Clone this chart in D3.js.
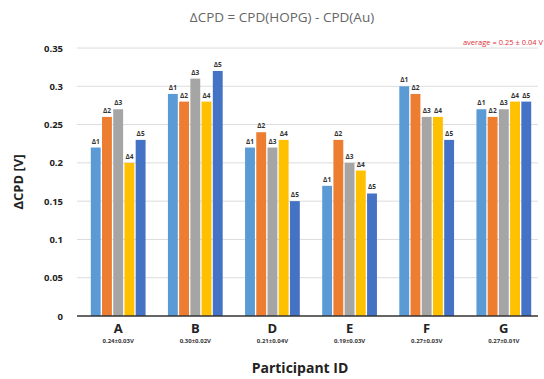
<!DOCTYPE html>
<html>
<head>
<meta charset="utf-8">
<script src="https://cdn.jsdelivr.net/npm/d3@7"></script>
<style>
  body { margin: 0; background: #fff; }
  text { font-family: "Open Sans", "Liberation Sans", sans-serif; }
</style>
</head>
<body>
<div id="chart"></div>
<script>
const participants = ['A', 'B', 'D', 'E', 'F', 'G'];
const summaries = ['0.24±0.03V', '0.30±0.02V', '0.21±0.04V', '0.19±0.03V', '0.27±0.03V', '0.27±0.01V'];
const seriesNames = ['Δ1', 'Δ2', 'Δ3', 'Δ4', 'Δ5'];
const seriesColors = ['#5B9BD5', '#ED7D31', '#A5A5A5', '#FFC000', '#4472C4'];
const values = [
  [0.22, 0.26, 0.27, 0.20, 0.23],
  [0.29, 0.28, 0.31, 0.28, 0.32],
  [0.22, 0.24, 0.22, 0.23, 0.15],
  [0.17, 0.23, 0.20, 0.19, 0.16],
  [0.30, 0.29, 0.26, 0.26, 0.23],
  [0.27, 0.26, 0.27, 0.28, 0.28]
];
const yTicks = [0, 0.05, 0.1, 0.15, 0.2, 0.25, 0.3, 0.35];

const width = 544, height = 379;
const margin = { top: 48, right: 2, bottom: 63, left: 80 };

const svg = d3.select('#chart').append('svg')
  .attr('width', width)
  .attr('height', height);

const x = d3.scaleBand()
  .domain(participants)
  .range([margin.left, width - margin.right])
  .paddingInner(0.29)
  .paddingOuter(0.14);

const xs = d3.scaleBand()
  .domain(seriesNames)
  .range([0, x.bandwidth()])
  .paddingInner(0.12);

const y = d3.scaleLinear()
  .domain([0, 0.35])
  .range([height - margin.bottom, margin.top]);

// grid lines
svg.append('g')
  .selectAll('line')
  .data(yTicks.filter(d => d > 0))
  .enter().append('line')
  .attr('x1', margin.left - 3)
  .attr('x2', width - 6)
  .attr('y1', d => y(d))
  .attr('y2', d => y(d))
  .attr('stroke', '#dcdcdc')
  .attr('stroke-width', 1);

// y tick labels
svg.append('g')
  .selectAll('text')
  .data(yTicks)
  .enter().append('text')
  .attr('x', 63)
  .attr('y', d => y(d) + 3.5)
  .attr('text-anchor', 'end')
  .attr('font-size', 9.5)
  .attr('font-weight', 'bold')
  .attr('fill', '#222')
  .text(d => d === 0 ? '0' : d3.format('.2~f')(d));

// bars
const groups = svg.selectAll('g.group')
  .data(values)
  .enter().append('g')
  .attr('class', 'group')
  .attr('transform', (d, i) => `translate(${x(participants[i])},0)`);

groups.selectAll('rect')
  .data(d => d)
  .enter().append('rect')
  .attr('x', (d, j) => xs(seriesNames[j]))
  .attr('width', xs.bandwidth())
  .attr('y', d => y(d))
  .attr('height', d => y(0) - y(d))
  .attr('fill', (d, j) => seriesColors[j]);

groups.selectAll('text')
  .data(d => d)
  .enter().append('text')
  .attr('x', (d, j) => xs(seriesNames[j]) + xs.bandwidth() / 2)
  .attr('y', d => y(d) - 4)
  .attr('text-anchor', 'middle')
  .attr('font-family', '"Liberation Serif", serif')
  .attr('font-size', 6.5)
  .attr('font-weight', 'bold')
  .attr('fill', '#333')
  .text((d, j) => seriesNames[j]);

// zero axis line
svg.append('line')
  .attr('x1', margin.left - 3)
  .attr('x2', width - 6)
  .attr('y1', y(0))
  .attr('y2', y(0))
  .attr('stroke', '#333')
  .attr('stroke-width', 1.5);

// x labels
svg.append('g')
  .selectAll('text')
  .data(participants)
  .enter().append('text')
  .attr('x', d => x(d) + x.bandwidth() / 2)
  .attr('y', y(0) + 17)
  .attr('text-anchor', 'middle')
  .attr('font-size', 13)
  .attr('font-weight', 'bold')
  .attr('fill', '#222')
  .text(d => d);

svg.append('g')
  .selectAll('text')
  .data(summaries)
  .enter().append('text')
  .attr('x', (d, i) => x(participants[i]) + x.bandwidth() / 2)
  .attr('y', y(0) + 27)
  .attr('text-anchor', 'middle')
  .attr('font-size', 6)
  .attr('font-weight', 'bold')
  .attr('fill', '#333')
  .text(d => d);

// titles
svg.append('text')
  .attr('x', 282)
  .attr('y', 22)
  .attr('text-anchor', 'middle')
  .attr('font-size', 13.5)
  .attr('fill', '#666')
  .text('ΔCPD = CPD(HOPG) - CPD(Au)');

svg.append('text')
  .attr('x', 543)
  .attr('y', 45)
  .attr('text-anchor', 'end')
  .attr('font-size', 7.5)
  .attr('fill', '#e0303a')
  .text('average = 0.25 ± 0.04 V');

svg.append('text')
  .attr('transform', `translate(23,${(y(0) + y(0.35)) / 2}) rotate(-90)`)
  .attr('text-anchor', 'middle')
  .attr('font-size', 13)
  .attr('font-weight', 'bold')
  .attr('fill', '#222')
  .text('ΔCPD [V]');

svg.append('text')
  .attr('x', 300)
  .attr('y', 373)
  .attr('text-anchor', 'middle')
  .attr('font-size', 14)
  .attr('font-weight', 'bold')
  .attr('fill', '#222')
  .text('Participant ID');
</script>
</body>
</html>
